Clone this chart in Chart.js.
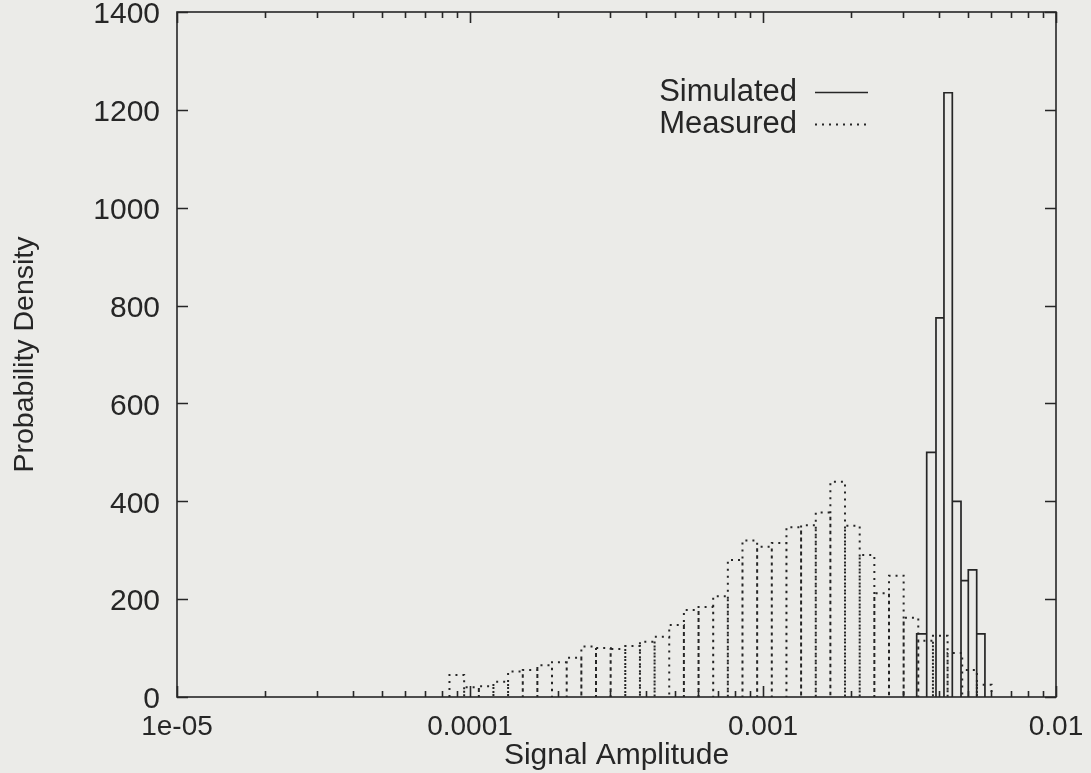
<!DOCTYPE html>
<html>
<head>
<meta charset="utf-8">
<script src="https://cdn.jsdelivr.net/npm/chart.js@4.4.0/dist/chart.umd.min.js"></script>
<style>
  html, body { margin: 0; padding: 0; background: #ebebe8; }
  #wrap { width: 1091px; height: 773px; }
</style>
</head>
<body>
<div id="wrap"><canvas id="histChart" width="1091" height="773"></canvas></div>
<script>
// bin edges (signal amplitude) and densities
const measuredEdges = [
  8.51e-5, 9.55e-5, 1.072e-4, 1.202e-4, 1.349e-4, 1.514e-4, 1.698e-4, 1.905e-4,
  2.138e-4, 2.399e-4, 2.692e-4, 3.020e-4, 3.388e-4, 3.802e-4, 4.266e-4, 4.786e-4,
  5.370e-4, 6.026e-4, 6.761e-4, 7.586e-4, 8.511e-4, 9.550e-4, 1.0715e-3, 1.2023e-3,
  1.349e-3, 1.514e-3, 1.698e-3, 1.905e-3, 2.138e-3, 2.399e-3, 2.692e-3, 3.020e-3,
  3.388e-3, 3.802e-3, 4.266e-3, 4.786e-3, 5.370e-3, 6.026e-3
];
const measuredDensity = [
  45, 20, 22, 31, 52, 55, 65, 71,
  80, 103, 100, 98, 104, 113, 123, 147,
  178, 184, 206, 280, 320, 307, 315, 347,
  351, 377, 440, 350, 290, 212, 248, 162,
  115, 125, 90, 55, 25
];

const simulatedEdges = [3.346e-3, 3.620e-3, 3.894e-3, 4.146e-3, 4.427e-3, 4.740e-3, 5.020e-3, 5.362e-3, 5.721e-3];
const simulatedDensity = [129, 500, 775, 1235, 400, 238, 260, 129];

const xTickValues = [1e-5, 1e-4, 1e-3, 1e-2];
const xTickLabels = ["1e-05", "0.0001", "0.001", "0.01"];
const yTickStep = 200;

const INK = "#262626";
const FONT = "'Liberation Sans', Arial, Helvetica, sans-serif";

// each bin drawn as an open box: up the left edge, across, down the right edge
function boxPath(edges, heights) {
  const pts = [];
  for (let i = 0; i < heights.length; i++) {
    pts.push({ x: edges[i], y: 0 });
    pts.push({ x: edges[i], y: heights[i] });
    pts.push({ x: edges[i + 1], y: heights[i] });
    pts.push({ x: edges[i + 1], y: 0 });
  }
  return pts;
}

const frameAndKey = {
  id: "frameAndKey",
  beforeDraw(chart) {
    const ctx = chart.ctx;
    ctx.save();
    ctx.fillStyle = "#ebebe8";
    ctx.fillRect(0, 0, chart.width, chart.height);
    ctx.restore();
  },
  afterDatasetsDraw(chart) {
    const { ctx, chartArea: a, scales } = chart;
    const xs = scales.x, ys = scales.y;
    ctx.save();
    ctx.strokeStyle = INK;
    ctx.lineWidth = 1.6;
    ctx.strokeRect(a.left, a.top, a.right - a.left, a.bottom - a.top);

    ctx.beginPath();
    // y ticks, inward on both sides
    for (let v = 0; v <= ys.max; v += yTickStep) {
      const py = Math.round(ys.getPixelForValue(v)) + 0.5;
      ctx.moveTo(a.left, py); ctx.lineTo(a.left + 11, py);
      ctx.moveTo(a.right, py); ctx.lineTo(a.right - 11, py);
    }
    // x ticks, decades long, 2..9 short
    for (let d = -5; d <= -2; d++) {
      for (let k = 1; k <= 9; k++) {
        const v = k * Math.pow(10, d);
        if (v > xs.max * 1.0001) break;
        const px = Math.round(xs.getPixelForValue(v)) + 0.5;
        const len = k === 1 ? 11 : 6;
        ctx.moveTo(px, a.bottom); ctx.lineTo(px, a.bottom - len);
        ctx.moveTo(px, a.top); ctx.lineTo(px, a.top + len);
      }
    }
    ctx.stroke();

    // key, gnuplot style: text then line sample
    ctx.font = "31px " + FONT;
    ctx.fillStyle = INK;
    ctx.textAlign = "right";
    ctx.textBaseline = "middle";
    const rows = [92, 124];
    chart.data.datasets.forEach((ds, i) => {
      const y = rows[i];
      ctx.fillText(ds.label, 797, y);
      ctx.save();
      ctx.lineWidth = ds.borderWidth;
      ctx.setLineDash(ds.borderDash || []);
      ctx.beginPath();
      ctx.moveTo(815, y + 0.5);
      ctx.lineTo(868, y + 0.5);
      ctx.stroke();
      ctx.restore();
    });
    ctx.restore();
  }
};

new Chart(document.getElementById("histChart"), {
  type: "line",
  data: {
    datasets: [
      {
        label: "Simulated",
        data: boxPath(simulatedEdges, simulatedDensity),
        borderColor: INK,
        borderWidth: 1.7,
        pointRadius: 0,
        tension: 0,
        fill: false,
        order: 1
      },
      {
        label: "Measured",
        data: boxPath(measuredEdges, measuredDensity),
        borderColor: INK,
        borderWidth: 2,
        borderDash: [2, 5],
        pointRadius: 0,
        tension: 0,
        fill: false,
        order: 2
      }
    ]
  },
  options: {
    responsive: false,
    animation: false,
    layout: { padding: { top: 12, right: 35, left: 0, bottom: 0 } },
    plugins: {
      legend: { display: false },
      tooltip: { enabled: false }
    },
    scales: {
      x: {
        type: "logarithmic",
        min: 1e-5,
        max: 1e-2,
        grid: { display: false, drawTicks: false },
        border: { display: false },
        afterBuildTicks: axis => { axis.ticks = xTickValues.map(v => ({ value: v })); },
        afterFit: axis => {
          axis.height = 76;
          axis.paddingLeft = 0;
          axis.paddingRight = 0;
        },
        ticks: {
          autoSkip: false,
          maxRotation: 0,
          padding: 13,
          color: INK,
          font: { family: FONT, size: 28 },
          callback: v => {
            const i = xTickValues.findIndex(t => Math.abs(t - v) / t < 1e-6);
            return i >= 0 ? xTickLabels[i] : "";
          }
        },
        title: {
          display: true,
          text: "Signal Amplitude",
          color: INK,
          font: { family: FONT, size: 30 },
          padding: { top: 0, bottom: -1 }
        }
      },
      y: {
        type: "linear",
        min: 0,
        max: 1400,
        grid: { display: false, drawTicks: false },
        border: { display: false },
        afterFit: axis => {
          axis.width = 177;
          axis.paddingTop = 0;
          axis.paddingBottom = 0;
        },
        ticks: {
          stepSize: yTickStep,
          padding: 17,
          labelOffset: 3,
          color: INK,
          font: { family: FONT, size: 30 },
          callback: v => String(v)
        },
        title: {
          display: true,
          text: "Probability Density",
          color: INK,
          font: { family: FONT, size: 28.5 },
          padding: { top: 8, bottom: 0 }
        }
      }
    }
  },
  plugins: [frameAndKey]
});
</script>
</body>
</html>
